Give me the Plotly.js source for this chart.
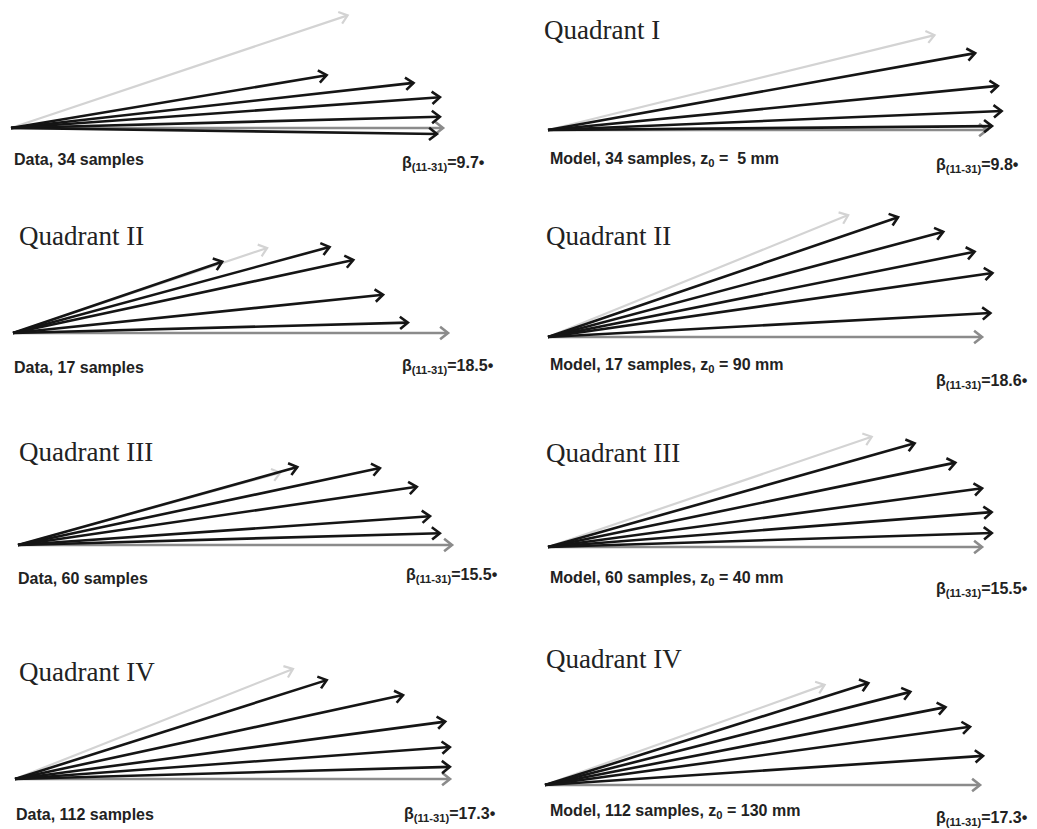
<!DOCTYPE html>
<html><head><meta charset="utf-8">
<script src="https://cdn.plot.ly/plotly-3.0.1.min.js"></script>
<style>html,body{margin:0;padding:0;background:#fff}</style>
</head><body><div id="chart" style="width:1037px;height:829px"></div>
<script>
// Each panel: arrow angles (degrees) and lengths.
// First entry = light reference arrow, last entry = grey reference arrow, others = sample arrows.
const q1DataAng  = [18.5, 9.5, 6.4, 4.1, 1.5, -0.8, 0];
const q1DataLen  = [355, 320, 405, 430, 429, 426, 432];
const q1ModelAng = [13.8, 10.2, 5.6, 2.4, 0.5, 0];
const q1ModelLen = [398, 434, 452, 454, 444, 439];
const q2DataAng  = [18.5, 18.8, 15.2, 12.1, 5.9, 1.5, 0];
const q2DataLen  = [268, 221, 328, 348, 372, 395, 435];
const q2ModelAng = [22.1, 18.9, 14.9, 11.3, 8.2, 3.1, 0];
const q2ModelLen = [324, 370, 409, 435, 449, 443, 434];
const q3DataAng  = [15.4, 15.6, 12.0, 8.3, 4.0, 1.6, 0];
const q3DataLen  = [272, 290, 370, 403, 413, 422, 434];
const q3ModelAng = [18.8, 15.8, 11.7, 7.7, 4.5, 1.8, 0];
const q3ModelLen = [342, 381, 416, 438, 445, 444, 434];
const q4DataAng  = [21.6, 17.6, 12.2, 7.6, 4.2, 1.6, 0];
const q4DataLen  = [299, 327, 397, 434, 436, 435, 435];
const q4ModelAng = [19.7, 17.5, 14.3, 11.0, 7.8, 3.8, 0];
const q4ModelLen = [297, 339, 377, 408, 429, 439, 435];

const quadrantTitles = ['', 'Quadrant I', 'Quadrant II', 'Quadrant II', 'Quadrant III', 'Quadrant III', 'Quadrant IV', 'Quadrant IV'];
const panelLabels = ['Data, 34 samples', 'Model, 34 samples, z<sub>0</sub> =  5 mm',
                     'Data, 17 samples', 'Model, 17 samples, z<sub>0</sub> = 90 mm',
                     'Data, 60 samples', 'Model, 60 samples, z<sub>0</sub> = 40 mm',
                     'Data, 112 samples', 'Model, 112 samples, z<sub>0</sub> = 130 mm'];
const betaValues = ['9.7', '9.8', '18.5', '18.6', '15.5', '15.5', '17.3', '17.3'];

// ---- layout (positions in page pixels) ----
const W = 1037, H = 829;
const angSets = [q1DataAng, q1ModelAng, q2DataAng, q2ModelAng, q3DataAng, q3ModelAng, q4DataAng, q4ModelAng];
const lenSets = [q1DataLen, q1ModelLen, q2DataLen, q2ModelLen, q3DataLen, q3ModelLen, q4DataLen, q4ModelLen];
const origins = [[11,128],[548,130],[13,333],[548,337],[18,545],[548,547],[15,779],[545,785]];
const titlePos = [null,[542,30],[17,236],[544,236],[17,452],[544,453],[17,672],[544,659]];
const labelPos = [[12,159],[548,160],[12,368],[548,365],[16,578],[548,578],[14,814],[548,811]];
const betaPos  = [[400,163],[934,165],[400,366],[934,381],[404,575],[934,589],[402,814],[934,818]];

const COL_BLACK = '#151515', COL_LIGHT = '#d3d3d3', COL_GREY = '#8b8b8b';
const HEAD_LEN = 10, HEAD_ANG = 38 * Math.PI / 180;
const traces = [], annotations = [];
// One shared axis pair: 1 unit = 1 screen pixel in both directions, so angles are preserved
const layout = {
  width: W, height: H, margin: {l:0, r:0, t:0, b:0},
  paper_bgcolor: '#ffffff', plot_bgcolor: '#ffffff', showlegend: false,
  xaxis: {range: [0, W], visible: false, fixedrange: true},
  yaxis: {range: [0, H], visible: false, fixedrange: true}
};
const px = x => x / W, py = y => 1 - y / H;

angSets.forEach((ang, i) => {
  const len = lenSets[i];
  const ox = origins[i][0], oy = H - origins[i][1];
  const n = ang.length;
  const order = [0, n - 1];
  for (let k = 1; k < n - 1; k++) order.push(k);
  order.forEach(k => {
    const r = ang[k] * Math.PI / 180;
    const tx = ox + len[k] * Math.cos(r), ty = oy + len[k] * Math.sin(r);
    const color = k === 0 ? COL_LIGHT : (k === n - 1 ? COL_GREY : COL_BLACK);
    const w = k === 0 ? 2.2 : 2.6;
    const h1x = tx - HEAD_LEN * Math.cos(r - HEAD_ANG), h1y = ty - HEAD_LEN * Math.sin(r - HEAD_ANG);
    const h2x = tx - HEAD_LEN * Math.cos(r + HEAD_ANG), h2y = ty - HEAD_LEN * Math.sin(r + HEAD_ANG);
    traces.push({type: 'scatter', mode: 'lines',
                 x: [ox, tx, null, h1x, tx, h2x], y: [oy, ty, null, h1y, ty, h2y],
                 connectgaps: false, line: {color: color, width: w},
                 hoverinfo: 'skip', showlegend: false});
  });
  if (quadrantTitles[i]) {
    annotations.push({xref: 'paper', yref: 'paper', x: px(titlePos[i][0]), y: py(titlePos[i][1]),
                      xanchor: 'left', yanchor: 'middle', showarrow: false, text: quadrantTitles[i],
                      font: {family: 'Liberation Serif, Times New Roman, serif', size: 27, color: '#222'}});
  }
  annotations.push({xref: 'paper', yref: 'paper', x: px(labelPos[i][0]), y: py(labelPos[i][1]),
                    xanchor: 'left', yanchor: 'middle', showarrow: false, text: panelLabels[i],
                    font: {family: 'Liberation Sans, Arial, sans-serif', size: 16, color: '#222', weight: 'bold'}});
  annotations.push({xref: 'paper', yref: 'paper', x: px(betaPos[i][0]), y: py(betaPos[i][1]),
                    xanchor: 'left', yanchor: 'middle', showarrow: false,
                    text: 'β<sub>(11-31)</sub>=' + betaValues[i] + '•',
                    font: {family: 'Liberation Sans, Arial, sans-serif', size: 16, color: '#222', weight: 'bold'}});
});
layout.annotations = annotations;
Plotly.newPlot('chart', traces, layout, {staticPlot: true, displayModeBar: false});
</script></body></html>
